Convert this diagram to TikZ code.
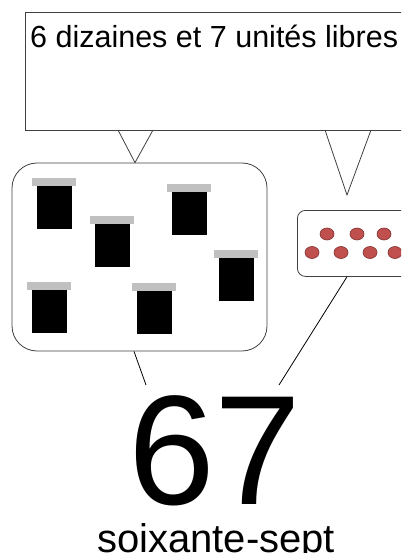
\documentclass[tikz,border=0pt]{standalone}
\usepackage{fontspec}
\setmainfont{Liberation Sans}
\definecolor{bordgris}{HTML}{404040}
\definecolor{capgris}{HTML}{C0C0C0}
\definecolor{rouge}{HTML}{C0504D}
\definecolor{rougefonce}{HTML}{7F2F2D}
\tikzset{
    cadre/.style={draw=bordgris, line width=0.8pt, fill=white, inner sep=0pt},
    trait/.style={line width=0.8pt, black},
    unite/.style={fill=rouge, draw=rougefonce, line width=0.6pt}
}
\begin{document}
\begin{tikzpicture}[x=1pt, y=-1pt]
        \useasboundingbox (0,0) rectangle (401,553);
        \clip (0,0) rectangle (401,553);
        % top box with the sentence
        \node[cadre, anchor=north west, minimum width=400pt, minimum height=118pt] (consigne) at (25,12) {};
        \node[anchor=base west, inner sep=0pt, font=\fontsize{30.5}{36}\selectfont] (titre) at (30,47.5) {6 dizaines et 7 unités libres};
        % callout tips
        \coordinate (pg1) at (118,130);
        \coordinate (pg2) at (153,130);
        \coordinate (pd1) at (325,130);
        \coordinate (pd2) at (371,130);
        \coordinate (pointe) at (347,195);
        % box of tens
        \node[cadre, rounded corners=25pt, minimum width=255pt, minimum height=188pt] (dizaines) at (139.5,257) {};
        \draw[trait, draw=bordgris] (pg1) -- (dizaines.north -| 135,0) -- (pg2);
        \foreach \x/\y in {32/178, 90/216, 167/184, 214/250, 27/282, 132/283} {
            \fill[capgris] (\x,\y) rectangle ++(44,8);
            \fill[black] (\x+4.5,\y+8) rectangle ++(35.5,43);
        }
        % box of units
        \node[cadre, rounded corners=8pt, anchor=north west, minimum width=130pt, minimum height=66pt] (unites) at (297,210) {};
        \draw[trait, draw=bordgris] (pd1) -- (pointe) -- (pd2);
        \foreach \x/\y in {327/234, 357/234, 384/234, 312/252.5, 341/252.5, 370/252.5, 395/252.5} {
            \draw[unite] (\x,\y) ellipse (7 and 6);
        }
        % the number and its name
        \node[anchor=base, inner sep=0pt, text depth=0pt, font=\fontsize{156}{156}\selectfont] (nombre) at (215,504) {67};
        \node[anchor=base, inner sep=0pt, font=\fontsize{40}{48}\selectfont] (nom) at (216,552) {soixante-sept};
        \coordinate (ng) at (146,385);
        \coordinate (nd) at (279,385);
        \draw[trait] (dizaines.south -| 134,0) -- (ng);
        \draw[trait] (unites.south -| 347,0) -- (nd);
    \end{tikzpicture}
\end{document}
